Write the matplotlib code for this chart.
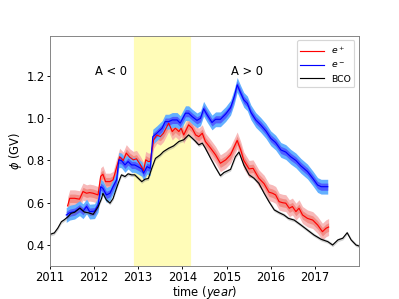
import numpy as np
import matplotlib
matplotlib.use("Agg")
import matplotlib.pyplot as plt

# BCO model (black)
t_bco = [2011.00, 2011.10, 2011.18, 2011.26, 2011.33, 2011.41, 2011.48, 2011.56, 2011.68, 2011.78,
         2011.88, 2011.98, 2012.09, 2012.17, 2012.20, 2012.28, 2012.36, 2012.43, 2012.51, 2012.56,
         2012.62, 2012.70, 2012.77, 2012.85, 2012.92, 2013.00, 2013.08, 2013.15, 2013.23, 2013.31,
         2013.39, 2013.50, 2013.57, 2013.69, 2013.80, 2013.92, 2014.03, 2014.14, 2014.22, 2014.30,
         2014.37, 2014.45, 2014.52, 2014.64, 2014.75, 2014.86, 2014.94, 2015.09, 2015.20, 2015.28,
         2015.39, 2015.51, 2015.62, 2015.73, 2015.85, 2015.96, 2016.08, 2016.19, 2016.30, 2016.40,
         2016.53, 2016.68, 2016.83, 2016.98, 2017.14, 2017.29, 2017.40, 2017.52, 2017.63, 2017.73,
         2017.82, 2017.93, 2018.00]
phi_bco = [0.450, 0.457, 0.480, 0.510, 0.520, 0.534, 0.550, 0.555, 0.575, 0.556,
           0.552, 0.545, 0.580, 0.620, 0.645, 0.613, 0.598, 0.620, 0.670, 0.700,
           0.732, 0.724, 0.737, 0.732, 0.732, 0.716, 0.700, 0.711, 0.715, 0.765,
           0.810, 0.827, 0.842, 0.858, 0.869, 0.890, 0.898, 0.921, 0.906, 0.890,
           0.874, 0.882, 0.858, 0.810, 0.767, 0.728, 0.743, 0.758, 0.818, 0.840,
           0.779, 0.732, 0.716, 0.692, 0.645, 0.605, 0.566, 0.553, 0.542, 0.526,
           0.518, 0.495, 0.471, 0.447, 0.427, 0.416, 0.400, 0.424, 0.432, 0.458,
           0.424, 0.400, 0.395]
err_bco = 0.008

# positrons (red)
t_pos = [2011.40, 2011.45, 2011.56, 2011.67, 2011.75, 2011.83, 2011.90, 2011.98, 2012.09, 2012.15,
         2012.20, 2012.26, 2012.36, 2012.43, 2012.51, 2012.58, 2012.66, 2012.73, 2012.81, 2012.89,
         2012.96, 2013.04, 2013.12, 2013.17, 2013.23, 2013.27, 2013.35, 2013.42, 2013.50, 2013.57,
         2013.69, 2013.77, 2013.84, 2013.92, 2013.97, 2014.03, 2014.14, 2014.22, 2014.30, 2014.37,
         2014.45, 2014.52, 2014.64, 2014.75, 2014.86, 2014.98, 2015.09, 2015.24, 2015.32, 2015.39,
         2015.51, 2015.60, 2015.73, 2015.85, 2015.96, 2016.04, 2016.11, 2016.19, 2016.27, 2016.34,
         2016.42, 2016.49, 2016.57, 2016.64, 2016.72, 2016.83, 2016.95, 2017.06, 2017.17, 2017.25,
         2017.31]
phi_pos = [0.585, 0.621, 0.621, 0.617, 0.653, 0.645, 0.648, 0.645, 0.637, 0.725,
           0.735, 0.700, 0.700, 0.708, 0.767, 0.818, 0.800, 0.835, 0.815, 0.803,
           0.808, 0.783, 0.752, 0.803, 0.795, 0.795, 0.898, 0.921, 0.913, 0.929,
           0.977, 0.937, 0.953, 0.937, 0.953, 0.921, 0.969, 0.953, 0.921, 0.913,
           0.929, 0.890, 0.858, 0.827, 0.787, 0.803, 0.827, 0.895, 0.850, 0.800,
           0.760, 0.763, 0.716, 0.690, 0.650, 0.645, 0.637, 0.605, 0.600, 0.598,
           0.574, 0.582, 0.558, 0.574, 0.542, 0.526, 0.518, 0.495, 0.463, 0.479,
           0.485]
err_pos_in = 0.02
err_pos_out = 0.04

# electrons (blue)
t_ele = [2011.37, 2011.45, 2011.56, 2011.67, 2011.75, 2011.83, 2011.90, 2012.01, 2012.09, 2012.15,
         2012.20, 2012.28, 2012.36, 2012.43, 2012.51, 2012.56, 2012.62, 2012.70, 2012.77, 2012.85,
         2012.92, 2013.00, 2013.08, 2013.12, 2013.20, 2013.27, 2013.33, 2013.42, 2013.54, 2013.61,
         2013.69, 2013.77, 2013.88, 2013.95, 2014.07, 2014.14, 2014.22, 2014.33, 2014.41, 2014.48,
         2014.56, 2014.67, 2014.75, 2014.86, 2014.98, 2015.09, 2015.17, 2015.24, 2015.32, 2015.39,
         2015.47, 2015.55, 2015.66, 2015.77, 2015.89, 2016.00, 2016.11, 2016.23, 2016.34, 2016.45,
         2016.57, 2016.68, 2016.83, 2016.95, 2017.06, 2017.14, 2017.29]
phi_ele = [0.542, 0.553, 0.558, 0.574, 0.560, 0.582, 0.558, 0.560, 0.590, 0.676,
           0.668, 0.637, 0.645, 0.676, 0.708, 0.803, 0.800, 0.779, 0.795, 0.779,
           0.779, 0.770, 0.760, 0.740, 0.771, 0.763, 0.913, 0.929, 0.953, 0.984,
           0.984, 0.992, 0.992, 0.977, 1.024, 1.024, 1.008, 0.990, 1.000, 1.045,
           1.016, 0.980, 0.995, 0.995, 1.020, 1.050, 1.100, 1.158, 1.119, 1.087,
           1.070, 1.028, 0.992, 0.969, 0.940, 0.905, 0.885, 0.850, 0.840, 0.818,
           0.800, 0.775, 0.748, 0.716, 0.684, 0.676, 0.676]
err_ele_in = 0.017
err_ele_out = 0.035

period_start = 2012.9
period_end = 2014.18

t_bco, phi_bco = np.array(t_bco), np.array(phi_bco)
t_pos, phi_pos = np.array(t_pos), np.array(phi_pos)
t_ele, phi_ele = np.array(t_ele), np.array(phi_ele)

fig, ax = plt.subplots(figsize=(399 / 83, 299 / 83), dpi=83)

ax.axvspan(period_start, period_end, color='#fffcb8', zorder=0)

# uncertainty bands
ax.fill_between(t_pos, phi_pos - err_pos_out, phi_pos + err_pos_out, color='#f5a8a8', lw=0, alpha=0.8)
ax.fill_between(t_pos, phi_pos - err_pos_in, phi_pos + err_pos_in, color='#f07a70', lw=0, alpha=0.7)
ax.fill_between(t_ele, phi_ele - err_ele_out, phi_ele + err_ele_out, color='#64b0ff', lw=0)
ax.fill_between(t_ele, phi_ele - err_ele_in, phi_ele + err_ele_in, color='#4a4aff', lw=0, alpha=0.8)
ax.fill_between(t_bco, phi_bco - err_bco, phi_bco + err_bco, color='gray', lw=0, alpha=0.35)

ax.plot(t_pos, phi_pos, color='red', lw=1, label='$e^+$')
ax.plot(t_ele, phi_ele, color='blue', lw=1, label='$e^-$')
ax.plot(t_bco, phi_bco, color='black', lw=1, label='BCO')

ax.text(2012.38, 1.22, 'A < 0', ha='center', va='center')
ax.text(2015.47, 1.22, 'A > 0', ha='center', va='center')

ax.set_xlim(2011, 2018)
ax.set_ylim(0.3, 1.39)
ax.set_xticks([2011, 2012, 2013, 2014, 2015, 2016, 2017])
ax.set_yticks([0.4, 0.6, 0.8, 1.0, 1.2])
ax.tick_params(length=3, pad=1.5)
ax.set_xlabel('time ($year$)', labelpad=-0.5)
ax.set_ylabel(r'$\phi$ (GV)', labelpad=2)
for s in ax.spines.values():
    s.set_color('0.5')

ax.legend(loc='upper right', fontsize=8, handlelength=2.5)

plt.savefig('out.png', dpi=83)
